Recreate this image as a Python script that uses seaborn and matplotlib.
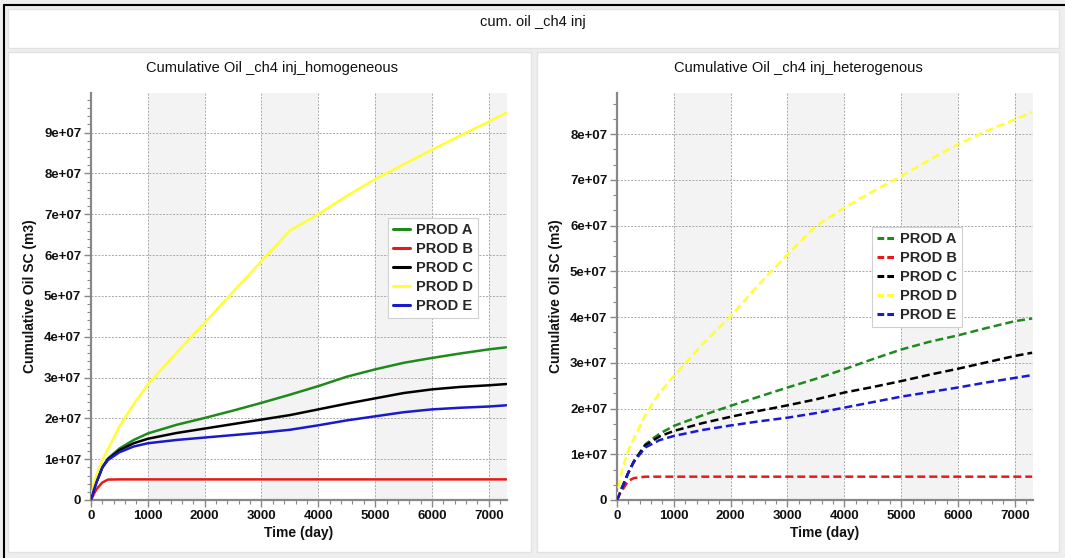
import numpy as np
import pandas as pd
import matplotlib
matplotlib.use("Agg")
import matplotlib.pyplot as plt
from matplotlib.patches import Rectangle
from matplotlib.lines import Line2D
from matplotlib.ticker import AutoMinorLocator, MultipleLocator, FuncFormatter
import seaborn as sns

# ---------------- data (values in 1e7 m3) ----------------
days = [0, 50, 100, 200, 300, 500, 750, 1000, 1500, 2000, 2500, 3000, 3500,
        4000, 4500, 5000, 5500, 6000, 6500, 7000, 7305]

homo_A = [0, 0.25, 0.45, 0.80, 1.02, 1.26, 1.47, 1.63, 1.84, 2.01, 2.19, 2.38, 2.58,
          2.79, 3.02, 3.20, 3.36, 3.48, 3.59, 3.69, 3.74]
homo_B = [0, 0.15, 0.27, 0.43, 0.50, 0.505, 0.505, 0.505, 0.505, 0.505, 0.505, 0.505, 0.505,
          0.505, 0.505, 0.505, 0.505, 0.505, 0.505, 0.505, 0.505]
homo_C = [0, 0.25, 0.45, 0.80, 1.00, 1.22, 1.39, 1.50, 1.64, 1.75, 1.86, 1.97, 2.08,
          2.22, 2.36, 2.49, 2.62, 2.71, 2.77, 2.81, 2.84]
homo_D = [0, 0.42, 0.62, 0.98, 1.25, 1.80, 2.35, 2.83, 3.60, 4.34, 5.10, 5.85, 6.60,
          7.00, 7.45, 7.86, 8.22, 8.58, 8.93, 9.27, 9.48]
homo_E = [0, 0.25, 0.45, 0.80, 0.98, 1.17, 1.31, 1.39, 1.47, 1.53, 1.59, 1.65, 1.72,
          1.83, 1.95, 2.05, 2.15, 2.22, 2.26, 2.29, 2.32]

het_A = [0, 0.16, 0.30, 0.60, 0.85, 1.22, 1.45, 1.62, 1.85, 2.06, 2.26, 2.46, 2.65,
         2.86, 3.08, 3.29, 3.46, 3.60, 3.76, 3.91, 3.97]
het_B = [0, 0.13, 0.23, 0.42, 0.48, 0.51, 0.51, 0.51, 0.51, 0.51, 0.51, 0.51, 0.51,
         0.51, 0.51, 0.51, 0.51, 0.51, 0.51, 0.51, 0.51]
het_C = [0, 0.16, 0.30, 0.60, 0.85, 1.20, 1.39, 1.51, 1.68, 1.82, 1.95, 2.07, 2.20,
         2.35, 2.47, 2.60, 2.74, 2.87, 3.01, 3.15, 3.22]
het_D = [0, 0.45, 0.70, 1.10, 1.35, 1.87, 2.35, 2.71, 3.40, 4.02, 4.72, 5.37, 5.99,
         6.39, 6.75, 7.08, 7.44, 7.78, 8.07, 8.32, 8.48]
het_E = [0, 0.16, 0.30, 0.60, 0.84, 1.15, 1.31, 1.40, 1.53, 1.63, 1.72, 1.80, 1.90,
         2.02, 2.14, 2.26, 2.36, 2.46, 2.57, 2.67, 2.73]

wells = ["PROD A", "PROD B", "PROD C", "PROD D", "PROD E"]
well_colors = ["#1e8a1e", "#e51a1a", "#000000", "#ffff33", "#1a1acc"]

main_title = "cum. oil _ch4 inj"
left_title = "Cumulative Oil _ch4 inj_homogeneous"
right_title = "Cumulative Oil _ch4 inj_heterogenous"
xlabel = "Time (day)"
ylabel = "Cumulative Oil SC (m3)"

SCALE = 1e7


def long_df(series):
    rows = []
    for name, vals in zip(wells, series):
        for d, v in zip(days, vals):
            rows.append({"day": d, "oil": v * SCALE, "well": name})
    return pd.DataFrame(rows)


df_homo = long_df([homo_A, homo_B, homo_C, homo_D, homo_E])
df_het = long_df([het_A, het_B, het_C, het_D, het_E])

# ---------------- figure ----------------
sns.set_theme(style="white")
plt.rcParams["font.family"] = ["Liberation Sans", "DejaVu Sans"]

W, H = 1065, 558
fig = plt.figure(figsize=(W / 100, H / 100), dpi=100)
fig.patch.set_facecolor("#eeeeee")


def px_rect(x0, y0, x1, y1, **kw):
    fig.patches.append(Rectangle((x0 / W, 1 - y1 / H), (x1 - x0) / W, (y1 - y0) / H,
                                 transform=fig.transFigure, zorder=-5, **kw))


px_rect(8, 9, 1059, 48, facecolor="white", edgecolor="#e2e2e2", linewidth=1)
px_rect(8, 52, 531, 552, facecolor="white", edgecolor="#e2e2e2", linewidth=1)
px_rect(537, 52, 1059, 552, facecolor="white", edgecolor="#e2e2e2", linewidth=1)
# outer dark border (top & left)
fig.add_artist(Line2D([4 / W, 1], [1 - 5 / H, 1 - 5 / H], transform=fig.transFigure,
                      color="black", linewidth=1.5))
fig.add_artist(Line2D([4 / W, 4 / W], [0, 1 - 5 / H], transform=fig.transFigure,
                      color="black", linewidth=1.5))

fig.text(533 / W, 1 - 22 / H, main_title, ha="center", va="center", fontsize=10.5,
         color="#111111")

ax_specs = [
    (df_homo, (91, 93, 507, 500), left_title, 272, 9.97e7, 5, "-", (0.822, 0.570)),
    (df_het, (617, 93, 1033, 500), right_title, 798, 8.9e7, 3, (0, (3.2, 1.6)), (0.721, 0.548)),
]


def yfmt(v, pos):
    if abs(v) < 1:
        return "0"
    return f"{v / 1e7:.0f}e+07"


for df, (x0, y0, x1, y1), title, tx, ymax, nminor, ls, legpos in ax_specs:
    ax = fig.add_axes([x0 / W, 1 - y1 / H, (x1 - x0) / W, (y1 - y0) / H])
    ax.set_facecolor("white")
    xmax = 7320
    # alternating shaded bands
    for b in range(1000, 8000, 2000):
        ax.axvspan(b, min(b + 1000, xmax), color="#f3f3f3", zorder=0, linewidth=0)
    sns.lineplot(data=df, x="day", y="oil", hue="well", hue_order=wells,
                 palette=well_colors, ax=ax, linewidth=1.8,
                 legend=False, zorder=3)
    if ls != "-":
        for ln in ax.get_lines():
            ln.set_linestyle(ls)
    ax.set_xlim(0, xmax)
    ax.set_ylim(0, ymax)
    ax.xaxis.set_major_locator(MultipleLocator(1000))
    ax.yaxis.set_major_locator(MultipleLocator(1e7))
    ax.xaxis.set_minor_locator(AutoMinorLocator(5))
    ax.yaxis.set_minor_locator(AutoMinorLocator(nminor))
    ax.grid(True, which="major", color="#a8a8a8", linestyle=(0, (2, 1.5)), linewidth=0.7,
            zorder=1)
    ax.set_axisbelow(True)
    for s in ["top", "right"]:
        ax.spines[s].set_visible(False)
    for s in ["left", "bottom"]:
        ax.spines[s].set_color("#888888")
        ax.spines[s].set_linewidth(1.6)
    ax.tick_params(which="major", direction="out", length=5, width=1, color="#888888",
                   labelsize=9.5, pad=2, left=True, bottom=True, labelcolor="#111111")
    ax.tick_params(which="minor", direction="out", length=3, width=0.8, color="#888888",
                   left=True, bottom=True)
    ax.yaxis.set_major_formatter(FuncFormatter(yfmt))
    for lbl in ax.get_xticklabels() + ax.get_yticklabels():
        lbl.set_fontweight("bold")
    ax.set_xlabel(xlabel, fontsize=10, fontweight="bold", labelpad=3, color="#111111")
    ax.set_ylabel(ylabel, fontsize=10, fontweight="bold", labelpad=5, color="#111111")
    fig.text(tx / W, 1 - 68 / H, title, ha="center", va="center", fontsize=10.5,
             color="#111111")

    handles = [Line2D([0], [0], color=c, linewidth=2.2,
                      linestyle=("-" if ls == "-" else (0, (2.2, 1.0))))
               for c in well_colors]
    leg = ax.legend(handles, wells, loc="center", bbox_to_anchor=legpos, frameon=True,
                    fancybox=False, framealpha=1, edgecolor="#d0d0d0", handlelength=1.2,
                    handletextpad=0.4, borderpad=0.35, labelspacing=0.35,
                    borderaxespad=0, prop={"weight": "bold", "size": 10.5})
    leg.get_frame().set_linewidth(0.8)
    leg.set_zorder(5)

fig.savefig("out.png", dpi=100, facecolor=fig.get_facecolor())
